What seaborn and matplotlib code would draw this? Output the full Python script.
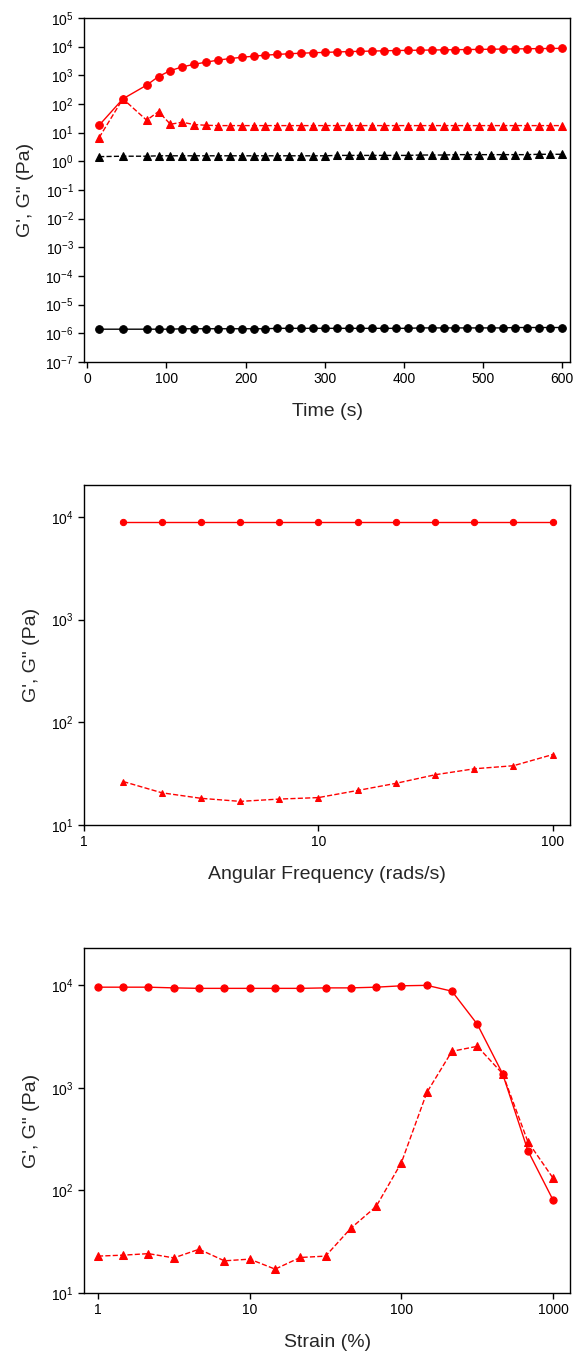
import numpy as np
import pandas as pd
import matplotlib
matplotlib.use("Agg")
import matplotlib.pyplot as plt
from matplotlib.ticker import LogLocator, FixedLocator, NullLocator, FixedFormatter
import seaborn as sns

# ---------------- data ----------------
time_s = [15, 45] + list(range(75, 601, 15))
gp_red_time = [18, 150, 450, 900, 1450, 1950, 2400, 2850, 3350, 3800, 4200, 4600, 5000, 5300,
               5600, 5850, 6050, 6250, 6450, 6650, 6800, 6950, 7100, 7250, 7350, 7450, 7550,
               7650, 7750, 7850, 7950, 8050, 8150, 8250, 8350, 8450, 8550, 8650]
gpp_red_time = [6.7, 150, 27, 54, 19.5, 23, 19, 18, 17.5, 17.5, 17.5, 17.5, 17.5, 17.5,
                17.5, 17.5, 17.5, 17.5, 17.5, 17.5, 17.5, 17.5, 17.5, 17.5, 17.5, 17.5, 17.5,
                17.5, 17.5, 17.5, 17.5, 17.5, 17.5, 17.5, 17.5, 17.5, 17.5, 17.5]
gpp_black_time = [1.45, 1.5, 1.5, 1.55, 1.55, 1.55, 1.55, 1.55, 1.55, 1.55, 1.55, 1.55, 1.55, 1.55,
                  1.55, 1.55, 1.55, 1.55, 1.6, 1.6, 1.6, 1.6, 1.6, 1.6, 1.6, 1.65, 1.65,
                  1.65, 1.7, 1.7, 1.7, 1.7, 1.7, 1.7, 1.7, 1.75, 1.75, 1.75]
gp_black_time = [1.4e-6, 1.4e-6, 1.4e-6, 1.4e-6, 1.4e-6, 1.45e-6, 1.45e-6, 1.45e-6, 1.45e-6,
                 1.45e-6, 1.45e-6, 1.45e-6, 1.45e-6, 1.5e-6, 1.5e-6, 1.5e-6, 1.5e-6, 1.5e-6,
                 1.5e-6, 1.5e-6, 1.5e-6, 1.5e-6, 1.5e-6, 1.5e-6, 1.5e-6, 1.55e-6, 1.55e-6,
                 1.55e-6, 1.55e-6, 1.55e-6, 1.55e-6, 1.55e-6, 1.55e-6, 1.6e-6, 1.6e-6, 1.6e-6,
                 1.6e-6, 1.6e-6]

freq = [1.47, 2.15, 3.16, 4.64, 6.81, 10, 14.7, 21.5, 31.6, 46.4, 68.1, 100]
gp_freq = [9000] * 12
gpp_freq = [26.5, 20.6, 18.2, 17.0, 17.9, 18.5, 21.7, 25.5, 30.9, 35.3, 37.8, 48.5]

strain = [1, 1.47, 2.15, 3.16, 4.64, 6.81, 10, 14.7, 21.5, 31.6, 46.4, 68.1,
          100, 147, 215, 316, 464, 681, 1000]
gp_strain = [9550, 9550, 9550, 9400, 9300, 9300, 9300, 9300, 9300, 9400, 9400, 9550,
             9850, 9950, 8730, 4160, 1370, 244, 80]
gpp_strain = [22.9, 23.4, 24.2, 22.0, 26.7, 20.6, 21.4, 17.1, 22.2, 22.9, 42.8, 69.7,
              187, 900, 2265, 2535, 1370, 298, 131]

top_xticks = [0, 100, 200, 300, 400, 500, 600]
mid_xticks = [1, 10, 100]
mid_xticklabels = ["1", "10", "100"]
bot_xticks = [1, 10, 100, 1000]
bot_xticklabels = ["1", "10", "100", "1000"]

# ---------------- style ----------------
sns.set_style("ticks")
plt.rcParams["font.family"] = ["Liberation Sans", "DejaVu Sans"]
plt.rcParams["axes.edgecolor"] = "black"
plt.rcParams["axes.linewidth"] = 1.0
plt.rcParams["xtick.direction"] = "out"
plt.rcParams["ytick.direction"] = "out"
plt.rcParams["xtick.color"] = "black"
plt.rcParams["ytick.color"] = "black"
plt.rcParams["mathtext.default"] = "regular"

fig = plt.figure(figsize=(5.76, 13.51), dpi=100)
ax1 = fig.add_axes([0.146, 0.732, 0.844, 0.2548])
ax2 = fig.add_axes([0.146, 0.3893, 0.844, 0.2517])
ax3 = fig.add_axes([0.146, 0.0429, 0.844, 0.2554])

lw = 1.0
dash = (6, 3)


def line(ax, x, y, color, marker, dashed, ms=5.5):
    df = pd.DataFrame({"x": x, "y": y})
    kw = dict(color=color, marker=marker, markersize=ms, linewidth=lw,
              markeredgecolor=color, markerfacecolor=color, errorbar=None, legend=False)
    if dashed:
        kw["dashes"] = dash
        kw["linestyle"] = "--"
    sns.lineplot(data=df, x="x", y="y", ax=ax, **kw)


# ---- panel 1 ----
line(ax1, time_s, gp_black_time, "black", "o", False, 5.5)
line(ax1, time_s, gpp_black_time, "black", "^", True, 5.5)
line(ax1, time_s, gpp_red_time, "red", "^", True, 5.5)
line(ax1, time_s, gp_red_time, "red", "o", False, 5.5)
ax1.set_yscale("log")
ax1.set_ylim(1e-7, 1e5)
ax1.set_xlim(-4, 610)
ax1.yaxis.set_major_locator(LogLocator(base=10, numticks=30))
ax1.yaxis.set_minor_locator(NullLocator())
ax1.xaxis.set_major_locator(FixedLocator(top_xticks))
ax1.set_xlabel("Time (s)", fontsize=14, labelpad=12)

# ---- panel 2 ----
line(ax2, freq, gp_freq, "red", "o", False, 4.5)
line(ax2, freq, gpp_freq, "red", "^", True, 4.8)
ax2.set_xscale("log")
ax2.set_yscale("log")
ax2.set_xlim(1, 119)
ax2.set_ylim(10, 20400)
ax2.xaxis.set_major_locator(FixedLocator(mid_xticks))
ax2.xaxis.set_major_formatter(FixedFormatter(mid_xticklabels))
ax2.xaxis.set_minor_locator(NullLocator())
ax2.yaxis.set_minor_locator(NullLocator())
ax2.set_xlabel("Angular Frequency (rads/s)", fontsize=14, labelpad=12)

# ---- panel 3 ----
line(ax3, strain, gp_strain, "red", "o", False, 5.2)
line(ax3, strain, gpp_strain, "red", "^", True, 5.2)
ax3.set_xscale("log")
ax3.set_yscale("log")
ax3.set_xlim(0.81, 1295)
ax3.set_ylim(10, 23000)
ax3.xaxis.set_major_locator(FixedLocator(bot_xticks))
ax3.xaxis.set_major_formatter(FixedFormatter(bot_xticklabels))
ax3.xaxis.set_minor_locator(NullLocator())
ax3.yaxis.set_minor_locator(NullLocator())
ax3.set_xlabel("Strain (%)", fontsize=14, labelpad=12)

for ax in (ax1, ax2, ax3):
    ax.set_ylabel("G', G\" (Pa)", fontsize=14, labelpad=8)
    ax.tick_params(axis="both", which="major", length=4, width=1, labelsize=10)
    for s in ax.spines.values():
        s.set_visible(True)
        s.set_color("black")

fig.savefig("out.png", dpi=100)
